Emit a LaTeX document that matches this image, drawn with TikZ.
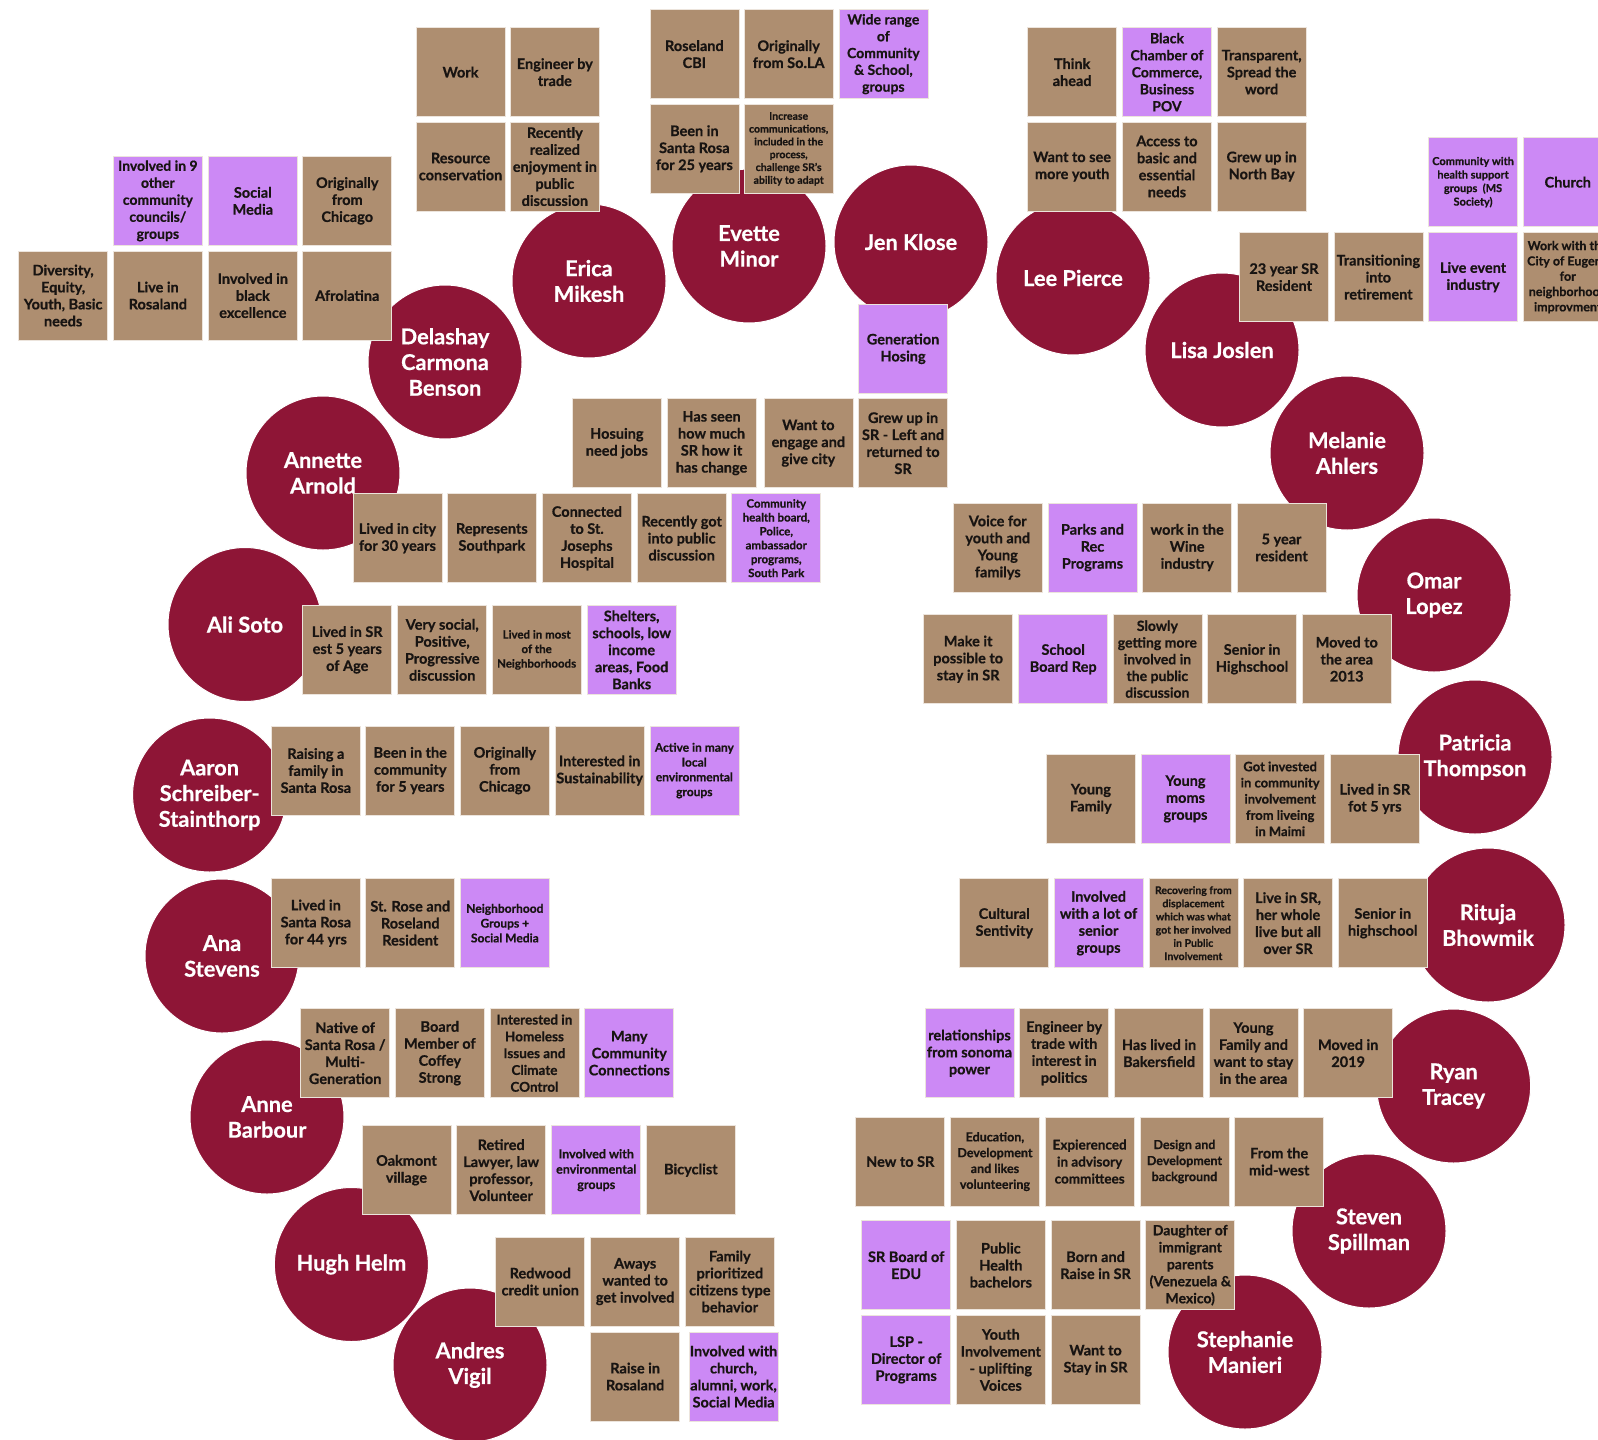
\documentclass[tikz,border=0pt]{standalone}
\usepackage{fontspec}
\setmainfont{Lato}[BoldFeatures={FakeBold=0.6}]
\definecolor{tanc}{RGB}{174,142,112}
\definecolor{lavc}{RGB}{204,137,245}
\definecolor{wine}{RGB}{142,21,54}
\definecolor{stkline}{RGB}{236,228,220}
\definecolor{ink}{RGB}{24,20,18}
\begin{document}
\begin{tikzpicture}[x=1pt,y=-1pt,
  sbox/.style={anchor=north west, minimum width=89pt, minimum height=89pt, inner sep=0pt, align=center, draw=stkline, line width=0.7pt, text=ink, font=\bfseries\fontsize{14.5}{17}\selectfont},
  tbox/.style={sbox, fill=tanc},
  pbox/.style={sbox, fill=lavc},
  fs/.style 2 args={font=\bfseries\fontsize{#1}{#2}\selectfont},
  person/.style={circle, fill=wine, draw=white, line width=1pt, minimum size=154pt, inner sep=0pt, align=center, text=white, font=\bfseries\fontsize{21.8}{25.7}\selectfont}]
\useasboundingbox (0,0) rectangle (1598,1440);
\clip (0,0) rectangle (1598,1440);
\fill[white] (0,0) rectangle (1598,1440);

% people
\node[person] (erica) at (589,281) {Erica\\Mikesh};
\node[person] (evette) at (749,246) {Evette\\Minor};
\node[person] (jen) at (911,242) {Jen Klose};
\node[person] (lee) at (1073,278) {Lee Pierce};
\node[person] (delashay) at (445,362) {Delashay\\Carmona\\Benson};
\node[person] (lisa) at (1222,350) {Lisa Joslen};
\node[person] (annette) at (323,473) {Annette\\Arnold};
\node[person] (melanie) at (1347,453) {Melanie\\Ahlers};
\node[person] (ali) at (245,624.5) {Ali Soto};
\node[person] (omar) at (1434,595) {Omar\\Lopez};
\node[person] (aaron) at (209.6,795) {Aaron\\Schreiber-\\Stainthorp};
\node[person] (patricia) at (1475,757) {Patricia\\Thompson};
\node[person] (ana) at (222,956) {Ana\\Stevens};
\node[person] (rituja) at (1488,925) {Rituja\\Bhowmik};
\node[person] (anne) at (267,1117) {Anne\\Barbour};
\node[person] (ryan) at (1453.6,1086) {Ryan\\Tracey};
\node[person] (hugh) at (351.4,1264.5) {Hugh Helm};
\node[person] (steven) at (1369,1231) {Steven\\Spillman};
\node[person] (andres) at (470,1365) {Andres\\Vigil};
\node[person] (stephanie) at (1245,1352) {Stephanie\\Manieri};

% Erica
\node[tbox] (e1) at (415.7,27.3) {Work};
\node[tbox] (e2) at (510,27.3) {Engineer by\\trade};
\node[tbox] (e3) at (415.7,121.7) {Resource\\conservation};
\node[tbox] (e4) at (510,121.7) {Recently\\realized\\enjoyment in\\public\\discussion};

% Delashay
\node[pbox,fs={14}{17}] (d1) at (113,156) {Involved in 9\\other\\community\\councils/\\groups};
\node[pbox] (d2) at (208,156) {Social\\Media};
\node[tbox] (d3) at (302.4,156) {Originally\\from\\Chicago};
\node[tbox] (d4) at (18.3,250.7) {Diversity,\\Equity,\\Youth, Basic\\needs};
\node[tbox] (d5) at (113,250.7) {Live in\\Rosaland};
\node[tbox] (d6) at (208,250.7) {Involved in\\black\\excellence};
\node[tbox] (d7) at (302.4,250.7) {Afrolatina};

% Evette
\node[tbox] (v1) at (649.5,9.3) {Roseland\\CBI};
\node[tbox] (v2) at (743.8,9.3) {Originally\\from So.LA};
\node[pbox,fs={14}{16.8}] (v3) at (838.5,9.3) {Wide range\\of\\Community\\\& School,\\groups};
\node[tbox] (v4) at (649.5,104) {Been in\\Santa Rosa\\for 25 years};
\node[tbox,fs={10.5}{12.8}] (v5) at (743.8,104) {Increase\\communications,\\included in the\\process,\\challenge SR's\\ability to adapt};

% Jen
\node[pbox] (j1) at (858.2,304) {Generation\\Hosing};
\node[tbox] (j2) at (572,398.3) {Hosuing\\need jobs};
\node[tbox] (j3) at (666.7,398.3) {Has seen\\how much\\SR how it\\has change};
\node[tbox] (j4) at (763.5,398.3) {Want to\\engage and\\give city};
\node[tbox] (j5) at (858.2,398.3) {Grew up in\\SR - Left and\\returned to\\SR};

% Lee
\node[tbox] (l1) at (1027.3,27.3) {Think\\ahead};
\node[pbox,fs={14}{17}] (l2) at (1122.1,27.3) {Black\\Chamber of\\Commerce,\\Business\\POV};
\node[tbox] (l3) at (1216.8,27.3) {Transparent,\\Spread the\\word};
\node[tbox] (l4) at (1027.3,121.7) {Want to see\\more youth};
\node[tbox] (l5) at (1122.1,121.7) {Access to\\basic and\\essential\\needs};
\node[tbox] (l6) at (1216.8,121.7) {Grew up in\\North Bay};

% Lisa
\node[pbox,fs={11}{13.5}] (s1) at (1428.2,137.3) {Community with\\health support\\groups\ \ (MS\\Society)};
\node[pbox] (s2) at (1522.9,137.3) {Church};
\node[tbox] (s3) at (1239.1,232.3) {23 year SR\\Resident};
\node[tbox] (s4) at (1333.5,232.3) {Transitioning\\into\\retirement};
\node[pbox] (s5) at (1428.2,232.3) {Live event\\industry};
\node[tbox,fs={12.5}{15.3}] (s6) at (1522.9,232.3) {Work with the\\City of Eugene\\for\\neighborhood\\improvment};

% Annette
\node[tbox] (a1) at (352.6,493.3) {Lived in city\\for 30 years};
\node[tbox] (a2) at (447,493.3) {Represents\\Southpark};
\node[tbox] (a3) at (542.1,493.3) {Connected\\to St.\\Josephs\\Hospital};
\node[tbox] (a4) at (636.8,493.3) {Recently got\\into public\\discussion};
\node[pbox,fs={11.5}{13.9}] (a5) at (731.4,493.3) {Community\\health board,\\Police,\\ambassador\\programs,\\South Park};

% Ali
\node[tbox] (o1) at (302.4,605) {Lived in SR\\est 5 years\\of Age};
\node[tbox] (o2) at (397.4,605) {Very social,\\Positive,\\Progressive\\discussion};
\node[tbox,fs={11.5}{14.5}] (o3) at (491.8,605) {Lived in most\\of the\\Neighborhoods};
\node[pbox] (o4) at (586.8,605) {Shelters,\\schools, low\\income\\areas, Food\\Banks};

% Aaron
\node[tbox] (r1) at (271,725.7) {Raising a\\family in\\Santa Rosa};
\node[tbox] (r2) at (365.4,725.7) {Been in the\\community\\for 5 years};
\node[tbox] (r3) at (460,725.7) {Originally\\from\\Chicago};
\node[tbox] (r4) at (554.8,725.7) {Interested in\\Sustainability};
\node[pbox,fs={12}{14.8}] (r5) at (649.5,725.7) {Active in many\\local\\environmental\\groups};

% Ana
\node[tbox] (n1) at (271,878.3) {Lived in\\Santa Rosa\\for 44 yrs};
\node[tbox] (n2) at (365.4,878.3) {St. Rose and\\Roseland\\Resident};
\node[pbox,fs={12}{14.8}] (n3) at (460,878.3) {Neighborhood\\Groups +\\Social Media};

% Anne
\node[tbox] (b1) at (300.3,1008.3) {Native of\\Santa Rosa /\\Multi-\\Generation};
\node[tbox] (b2) at (395,1008.3) {Board\\Member of\\Coffey\\Strong};
\node[tbox,fs={13.5}{16.8}] (b3) at (489.6,1008.3) {Interested in\\Homeless\\Issues and\\Climate\\COntrol};
\node[pbox] (b4) at (584.4,1008.3) {Many\\Community\\Connections};

% Hugh
\node[tbox] (h1) at (361.6,1125.3) {Oakmont\\village};
\node[tbox] (h2) at (456.3,1125.3) {Retired\\Lawyer, law\\professor,\\Volunteer};
\node[pbox,fs={12.5}{15.3}] (h3) at (551.4,1125.3) {Involved with\\environmental\\groups};
\node[tbox] (h4) at (646,1125.3) {Bicyclist};

% Andres
\node[tbox] (g1) at (495.4,1236.7) {Redwood\\credit union};
\node[tbox] (g2) at (590.3,1236.7) {Aways\\wanted to\\get involved};
\node[tbox] (g3) at (685,1236.7) {Family\\prioritized\\citizens type\\behavior};
\node[tbox] (g4) at (590.3,1331.7) {Raise in\\Rosaland};
\node[pbox] (g5) at (688.7,1331.7) {Involved with\\church,\\alumni, work,\\Social Media};

% Melanie
\node[tbox] (m1) at (952.9,502.7) {Voice for\\youth and\\Young\\familys};
\node[pbox] (m2) at (1047.6,502.7) {Parks and\\Rec\\Programs};
\node[tbox] (m3) at (1142.3,502.7) {work in the\\Wine\\industry};
\node[tbox] (m4) at (1236.7,502.7) {5 year\\resident};

% Omar
\node[tbox] (p1) at (923.3,614.3) {Make it\\possible to\\stay in SR};
\node[pbox] (p2) at (1018.3,614.3) {School\\Board Rep};
\node[tbox,fs={14}{16.7}] (p3) at (1112.5,614.3) {Slowly\\getting more\\involved in\\the public\\discussion};
\node[tbox] (p4) at (1207.2,614.3) {Senior in\\Highschool};
\node[tbox] (p5) at (1301.9,614.3) {Moved to\\the area\\2013};

% Patricia
\node[tbox] (t1) at (1046,754) {Young\\Family};
\node[pbox] (t2) at (1140.6,754) {Young\\moms\\groups};
\node[tbox,fs={13}{16.2}] (t3) at (1235.3,754) {Got invested\\in community\\involvement\\from liveing\\in Maimi};
\node[tbox] (t4) at (1330,754) {Lived in SR\\fot 5 yrs};

% Rituja
\node[tbox] (u1) at (959.4,878.3) {Cultural\\Sentivity};
\node[pbox] (u2) at (1053.7,878.3) {Involved\\with a lot of\\senior\\groups};
\node[tbox,fs={10.5}{13.2}] (u3) at (1148.5,878.3) {Recovering from\\displacement\\which was what\\got her involved\\in Public\\Involvement};
\node[tbox] (u4) at (1243.2,878.3) {Live in SR,\\her whole\\live but all\\over SR};
\node[tbox] (u5) at (1337.9,878.3) {Senior in\\highschool};

% Ryan
\node[pbox] (y1) at (924.6,1008.3) {relationships\\from sonoma\\power};
\node[tbox] (y2) at (1019.3,1008.3) {Engineer by\\trade with\\interest in\\politics};
\node[tbox] (y3) at (1114.2,1008.3) {Has lived in\\Bakersfield};
\node[tbox] (y4) at (1208.6,1008.3) {Young\\Family and\\want to stay\\in the area};
\node[tbox] (y5) at (1303.3,1008.3) {Moved in\\2019};

% Steven
\node[tbox] (w1) at (855.4,1116.7) {New to SR};
\node[tbox,fs={12.5}{15.8}] (w2) at (950.1,1116.7) {Education,\\Development\\and likes\\volunteering};
\node[tbox,fs={13.5}{17}] (w3) at (1044.8,1116.7) {Expierenced\\in advisory\\committees};
\node[tbox,fs={12.5}{16}] (w4) at (1139.6,1116.7) {Design and\\Development\\background};
\node[tbox] (w5) at (1234.3,1116.7) {From the\\mid-west};

% Stephanie
\node[pbox] (z1) at (861.3,1220.3) {SR Board of\\EDU};
\node[tbox] (z2) at (956,1220.3) {Public\\Health\\bachelors};
\node[tbox] (z3) at (1050.7,1220.3) {Born and\\Raise in SR};
\node[tbox,fs={14}{17}] (z4) at (1145.4,1220.3) {Daughter of\\immigrant\\parents\\(Venezuela \&\\Mexico)};
\node[pbox] (z5) at (861.3,1315) {LSP -\\Director of\\Programs};
\node[tbox] (z6) at (956,1315) {Youth\\Involvement\\- uplifting\\Voices};
\node[tbox] (z7) at (1050.7,1315) {Want to\\Stay in SR};
\end{tikzpicture}
\end{document}
